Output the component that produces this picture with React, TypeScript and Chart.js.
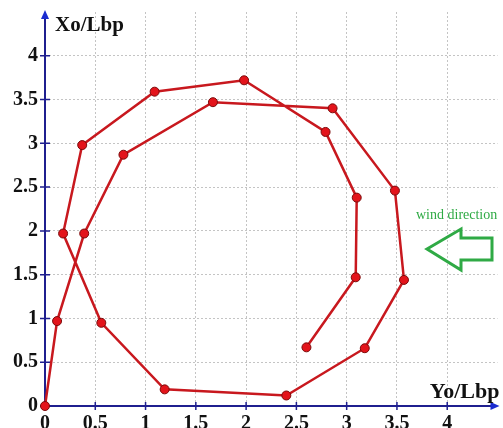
import React, { useEffect, useRef } from "react";
import { Chart, registerables } from "chart.js";

Chart.register(...registerables);

const yoValues = [0, 0.12, 0.39, 0.78, 1.67, 2.86, 3.48, 3.57, 3.18, 2.4, 1.19, 0.56, 0.18, 0.37, 1.09, 1.98, 2.79, 3.1, 3.09, 2.6];
const xoValues = [0, 0.97, 1.97, 2.87, 3.47, 3.4, 2.46, 1.44, 0.66, 0.12, 0.19, 0.95, 1.97, 2.98, 3.59, 3.72, 3.13, 2.38, 1.47, 0.67];
const axisMax = 4.5;
const tickStep = 0.5;
const xTitle = "Yo/Lbp";
const yTitle = "Xo/Lbp";
const windLabel = "wind direction";

const AXIS_COLOR = "#1f1f8f";
const ARROW_COLOR = "#1a2bd0";
const GRID_COLOR = "#c4c4c4";
const GREEN = "#2faa45";

const decorPlugin = {
  id: "decor",
  beforeDatasetsDraw(chart: any) {
    const { ctx, chartArea, scales } = chart;
    const xs = scales.x;
    const ys = scales.y;
    const x0 = xs.getPixelForValue(0);
    const y0 = ys.getPixelForValue(0);
    ctx.save();
    ctx.strokeStyle = AXIS_COLOR;
    ctx.lineWidth = 2;
    ctx.beginPath();
    ctx.moveTo(x0, y0);
    ctx.lineTo(chartArea.right - 4, y0);
    ctx.moveTo(x0, y0);
    ctx.lineTo(x0, chartArea.top + 4);
    ctx.stroke();
    ctx.lineWidth = 1.5;
    ctx.beginPath();
    for (let v = 0; v < axisMax - 0.01; v += tickStep) {
      const px = xs.getPixelForValue(v);
      ctx.moveTo(px, y0 - 4);
      ctx.lineTo(px, y0 + 4);
      const py = ys.getPixelForValue(v);
      ctx.moveTo(x0 - 5, py);
      ctx.lineTo(x0 + 5, py);
    }
    ctx.stroke();
    ctx.fillStyle = ARROW_COLOR;
    ctx.beginPath();
    ctx.moveTo(chartArea.right + 2, y0);
    ctx.lineTo(chartArea.right - 7, y0 - 4);
    ctx.lineTo(chartArea.right - 7, y0 + 4);
    ctx.closePath();
    ctx.fill();
    ctx.beginPath();
    ctx.moveTo(x0, chartArea.top - 2);
    ctx.lineTo(x0 - 4, chartArea.top + 7);
    ctx.lineTo(x0 + 4, chartArea.top + 7);
    ctx.closePath();
    ctx.fill();
    ctx.fillStyle = "#111";
    ctx.textBaseline = "alphabetic";
    ctx.textAlign = "left";
    ctx.font = "bold 21px 'Liberation Serif', serif";
    ctx.fillText(yTitle, x0 + 10, chartArea.top + 19);
    ctx.textAlign = "right";
    ctx.font = "bold 22px 'Liberation Serif', serif";
    ctx.fillText(xTitle, chartArea.right + 2, y0 - 8);
    ctx.textAlign = "left";
    ctx.fillStyle = GREEN;
    ctx.font = "14px 'Liberation Serif', serif";
    ctx.fillText(windLabel, 416, 219);
    ctx.strokeStyle = GREEN;
    ctx.lineWidth = 3;
    ctx.lineJoin = "miter";
    ctx.beginPath();
    ctx.moveTo(427, 249);
    ctx.lineTo(461, 229);
    ctx.lineTo(461, 238);
    ctx.lineTo(492, 238);
    ctx.lineTo(492, 260);
    ctx.lineTo(461, 260);
    ctx.lineTo(461, 270);
    ctx.closePath();
    ctx.stroke();
    ctx.restore();
  },
};

const gridColor = (c: any) => {
  const v = c.tick ? c.tick.value : 0;
  if (v <= 0.001 || v >= axisMax - 0.001) return "rgba(0,0,0,0)";
  return GRID_COLOR;
};

const zeroPad = (s: any) => {
  s.paddingTop = 0;
  s.paddingBottom = 0;
  s.paddingLeft = 0;
  s.paddingRight = 0;
};

export default function App() {
  const ref = useRef<HTMLCanvasElement>(null);
  useEffect(() => {
    document.body.style.margin = "0";
    const canvas = ref.current;
    if (!canvas) return;
    const data = yoValues.map((x, i) => ({ x, y: xoValues[i] }));
    const tickFont = { family: "'Liberation Serif', serif", size: 20, weight: "bold" as const };
    const chart = new Chart(canvas, {
      type: "scatter",
      data: {
        datasets: [
          {
            data,
            showLine: true,
            borderColor: "#c8181e",
            borderWidth: 2.5,
            pointRadius: 4.5,
            pointBackgroundColor: "#e3141b",
            pointBorderColor: "#7a0a0a",
            pointBorderWidth: 1,
            clip: false as any,
            tension: 0,
          },
        ],
      },
      options: {
        responsive: false,
        animation: false,
        layout: { padding: { top: 12, right: 3, left: 0, bottom: 0 } },
        plugins: { legend: { display: false }, tooltip: { enabled: false } },
        scales: {
          x: {
            type: "linear",
            min: 0,
            max: axisMax,
            border: { display: false, dash: [2, 2] },
            grid: { color: gridColor, lineWidth: 1, drawTicks: false },
            ticks: {
              stepSize: tickStep,
              padding: 6,
              color: "#111",
              font: tickFont,
              maxRotation: 0,
              autoSkip: false,
              callback: (v: any) => (Math.abs(v - axisMax) < 0.001 ? "" : String(v)),
            },
            afterFit: (s: any) => {
              s.height = 22;
              zeroPad(s);
            },
          },
          y: {
            type: "linear",
            min: 0,
            max: axisMax,
            border: { display: false, dash: [2, 2] },
            grid: { color: gridColor, lineWidth: 1, drawTicks: false },
            ticks: {
              stepSize: tickStep,
              padding: 7,
              color: "#111",
              font: tickFont,
              autoSkip: false,
              callback: (v: any) => (Math.abs(v - axisMax) < 0.001 ? "" : String(v)),
            },
            afterFit: (s: any) => {
              s.width = 45;
              zeroPad(s);
            },
          },
        },
      },
      plugins: [decorPlugin],
    });
    return () => chart.destroy();
  }, []);
  return <canvas ref={ref} width={503} height={428} style={{ display: "block" }} />;
}
